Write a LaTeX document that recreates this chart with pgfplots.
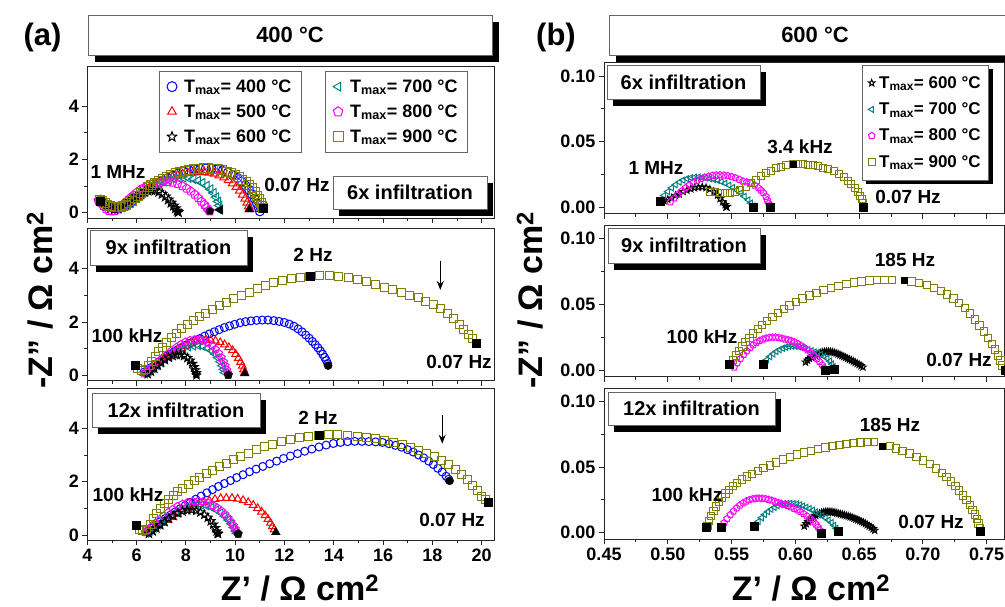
\documentclass[border=0pt]{standalone}
\usepackage{fontspec}
\setmainfont{Liberation Sans}
\usepackage{pgfplots}
\pgfplotsset{compat=1.18}
\usetikzlibrary{arrows.meta,shadows}

\definecolor{cblue}{RGB}{0,0,255}
\definecolor{cred}{RGB}{255,0,0}
\definecolor{cteal}{RGB}{0,128,128}
\definecolor{cmag}{RGB}{255,0,255}
\definecolor{colive}{RGB}{128,128,0}

\newcommand{\fs}[1]{\fontsize{#1}{#1}\selectfont\bfseries}
\newcommand{\tmax}[1]{T\textsubscript{max}= #1 °C}

% open and filled five-pointed star
\pgfdeclareplotmark{ostar}{%
  \pgfpathmoveto{\pgfqpoint{0pt}{\pgfplotmarksize}}%
  \pgfpathlineto{\pgfqpoint{-0.247\pgfplotmarksize}{0.340\pgfplotmarksize}}%
  \pgfpathlineto{\pgfqpoint{-0.951\pgfplotmarksize}{0.309\pgfplotmarksize}}%
  \pgfpathlineto{\pgfqpoint{-0.399\pgfplotmarksize}{-0.130\pgfplotmarksize}}%
  \pgfpathlineto{\pgfqpoint{-0.588\pgfplotmarksize}{-0.809\pgfplotmarksize}}%
  \pgfpathlineto{\pgfqpoint{0pt}{-0.42\pgfplotmarksize}}%
  \pgfpathlineto{\pgfqpoint{0.588\pgfplotmarksize}{-0.809\pgfplotmarksize}}%
  \pgfpathlineto{\pgfqpoint{0.399\pgfplotmarksize}{-0.130\pgfplotmarksize}}%
  \pgfpathlineto{\pgfqpoint{0.951\pgfplotmarksize}{0.309\pgfplotmarksize}}%
  \pgfpathlineto{\pgfqpoint{0.247\pgfplotmarksize}{0.340\pgfplotmarksize}}%
  \pgfpathclose\pgfusepathqstroke}
\pgfdeclareplotmark{ostar*}{%
  \pgfpathmoveto{\pgfqpoint{0pt}{\pgfplotmarksize}}%
  \pgfpathlineto{\pgfqpoint{-0.247\pgfplotmarksize}{0.340\pgfplotmarksize}}%
  \pgfpathlineto{\pgfqpoint{-0.951\pgfplotmarksize}{0.309\pgfplotmarksize}}%
  \pgfpathlineto{\pgfqpoint{-0.399\pgfplotmarksize}{-0.130\pgfplotmarksize}}%
  \pgfpathlineto{\pgfqpoint{-0.588\pgfplotmarksize}{-0.809\pgfplotmarksize}}%
  \pgfpathlineto{\pgfqpoint{0pt}{-0.42\pgfplotmarksize}}%
  \pgfpathlineto{\pgfqpoint{0.588\pgfplotmarksize}{-0.809\pgfplotmarksize}}%
  \pgfpathlineto{\pgfqpoint{0.399\pgfplotmarksize}{-0.130\pgfplotmarksize}}%
  \pgfpathlineto{\pgfqpoint{0.951\pgfplotmarksize}{0.309\pgfplotmarksize}}%
  \pgfpathlineto{\pgfqpoint{0.247\pgfplotmarksize}{0.340\pgfplotmarksize}}%
  \pgfpathclose\pgfusepathqfillstroke}

\tikzset{
  ibox/.style={draw=black!60, fill=white, line width=0.6pt, font=\fs{20}, inner sep=0pt,
    drop shadow={shadow xshift=6pt, shadow yshift=-7pt, fill=black, opacity=1}},
  hbox/.style={draw=black!60, fill=white, line width=0.6pt, font=\fs{22}, inner sep=0pt,
    drop shadow={shadow xshift=7pt, shadow yshift=-7pt, fill=black, opacity=1}},
  lbl/.style={font=\fs{19}},
}

\pgfplotsset{
  common/.style={scale only axis, clip=false, tick align=outside,
    xtick pos=bottom, ytick pos=left,
    axis line style={line width=0.8pt, black!85},
    every tick/.style={black!85, line width=0.8pt},
    major tick length=5pt, minor tick length=3pt,
    tick label style={font=\fs{18}},
    /pgf/number format/assume math mode=true},
  leftax/.style={common, width=406.7pt, height=152pt,
    xmin=4, xmax=20.5, ymin=-0.2, ymax=5.5,
    xtick={4,6,8,10,12,14,16,18,20}, ytick={0,2,4},
    minor x tick num=1, minor y tick num=1},
  rightax/.style={common, width=400.5pt, height=151.1pt,
    xmin=0.45, xmax=0.764, ymin=-0.005, ymax=0.11,
    xtick={0.45,0.50,0.55,0.60,0.65,0.70,0.75}, ytick={0,0.05,0.10},
    minor x tick num=1, minor y tick num=1,
    xticklabel style={/pgf/number format/.cd, fixed, fixed zerofill, precision=2},
    yticklabel style={/pgf/number format/.cd, fixed, fixed zerofill, precision=2}},
  s400/.style={only marks, mark=o, color=cblue, line width=1pt, mark size=4pt, mark options={draw=cblue}},
  s500/.style={only marks, mark=triangle, color=cred, line width=1pt, mark size=4.5pt, mark options={draw=cred}},
  s600/.style={only marks, mark=ostar, color=black, line width=1pt, mark size=4.5pt},
  s700/.style={only marks, mark=triangle, color=cteal, line width=1pt, mark size=4.5pt, mark options={rotate=90, draw=cteal}},
  s800/.style={only marks, mark=pentagon, color=cmag, line width=1pt, mark size=4pt, mark options={draw=cmag}},
  s900/.style={only marks, mark=square, color=colive, line width=1pt, mark size=4pt, mark options={draw=colive, fill=none}},
  fm/.style={only marks, black, mark size=4pt, forget plot},
  legl/.style={legend cell align=left,
    legend style={anchor=north west, draw=black!60, line width=0.6pt,
      font=\fs{18}, row sep=7pt, inner xsep=8pt, inner ysep=6pt,
      /tikz/every odd column/.append style={column sep=5pt}},
    legend image post style={mark size=5pt}},
}

\begin{document}
\begin{tikzpicture}
\useasboundingbox (0pt,0pt) rectangle (1005pt,607pt);

% ---------- (a) 400 C, 6x ----------
\begin{axis}[leftax, at={(87.3pt,389pt)}, anchor=south west, xticklabels={},
  legl, legend style={at={(0.1756,0.965)}}]
\addplot[s400, mark size=4.5pt] coordinates {(4.52,0.46)(4.65,0.38)(4.8,0.28)(4.95,0.21)(5.1,0.18)(5.25,0.18)(5.4,0.21)(5.55,0.27)(5.7,0.35)(5.85,0.45)(6.0,0.55)(6.16,0.66)(6.33,0.77)(6.5,0.88)(6.68,0.99)(6.87,1.1)(7.06,1.2)(7.26,1.3)(7.47,1.39)(7.68,1.47)(7.9,1.54)(8.12,1.59)(8.35,1.63)(8.58,1.65)(8.81,1.66)(9.04,1.65)(9.27,1.62)(9.49,1.57)(9.7,1.5)(9.9,1.41)(10.09,1.3)(10.26,1.17)(10.42,1.02)(10.56,0.86)(10.68,0.69)(10.79,0.52)(10.88,0.35)(10.95,0.19)(11.0,0.05)};
\addlegendentry{\tmax{400}}
\addplot[s500, mark size=5pt] coordinates {(4.52,0.45)(4.65,0.38)(4.8,0.28)(4.95,0.22)(5.1,0.2)(5.25,0.21)(5.4,0.24)(5.55,0.3)(5.7,0.38)(5.85,0.48)(6.0,0.58)(6.16,0.69)(6.33,0.8)(6.5,0.9)(6.68,1.0)(6.86,1.09)(7.05,1.18)(7.25,1.26)(7.45,1.33)(7.66,1.39)(7.87,1.44)(8.08,1.48)(8.3,1.51)(8.52,1.52)(8.74,1.52)(8.95,1.5)(9.16,1.46)(9.36,1.4)(9.55,1.32)(9.73,1.22)(9.9,1.1)(10.05,0.97)(10.19,0.83)(10.31,0.68)(10.41,0.53)(10.49,0.38)(10.55,0.24)(10.58,0.13)};
\addlegendentry{\tmax{500}}
\addplot[s700, mark size=5pt, forget plot] coordinates {(4.52,0.45)(4.65,0.38)(4.8,0.28)(4.95,0.2)(5.1,0.16)(5.25,0.16)(5.4,0.2)(5.55,0.27)(5.7,0.36)(5.86,0.46)(6.02,0.57)(6.19,0.68)(6.36,0.79)(6.54,0.9)(6.72,1.0)(6.91,1.09)(7.1,1.17)(7.3,1.23)(7.5,1.28)(7.7,1.3)(7.9,1.31)(8.1,1.3)(8.3,1.26)(8.49,1.2)(8.67,1.12)(8.84,1.01)(8.99,0.88)(9.12,0.74)(9.23,0.58)(9.31,0.42)(9.36,0.27)(9.39,0.12)};
\addplot[s800, mark size=4.5pt, forget plot] coordinates {(4.45,0.45)(4.55,0.36)(4.65,0.25)(4.76,0.14)(4.88,0.07)(5.0,0.05)(5.12,0.07)(5.24,0.13)(5.36,0.22)(5.48,0.32)(5.6,0.43)(5.73,0.54)(5.87,0.65)(6.01,0.76)(6.16,0.86)(6.32,0.95)(6.49,1.03)(6.67,1.09)(6.86,1.13)(7.06,1.15)(7.26,1.15)(7.46,1.13)(7.66,1.08)(7.85,1.0)(8.03,0.91)(8.2,0.8)(8.36,0.68)(8.5,0.55)(8.63,0.42)(8.75,0.3)(8.85,0.18)(8.93,0.09)(8.97,0.05)};
\addplot[s600, mark size=5pt] coordinates {(4.52,0.45)(4.65,0.36)(4.8,0.25)(4.95,0.17)(5.1,0.14)(5.25,0.16)(5.4,0.22)(5.55,0.31)(5.7,0.42)(5.85,0.53)(6.0,0.63)(6.15,0.72)(6.3,0.79)(6.45,0.83)(6.6,0.85)(6.75,0.83)(6.9,0.78)(7.04,0.7)(7.17,0.6)(7.29,0.49)(7.4,0.37)(7.5,0.26)(7.58,0.16)(7.65,0.07)(7.69,0.02)};
\addlegendentry{\tmax{600}}
\addplot[s900, mark size=4.5pt, forget plot] coordinates {(4.52,0.46)(4.6,0.42)(4.7,0.35)(4.8,0.29)(4.92,0.24)(5.05,0.22)(5.18,0.21)(5.32,0.22)(5.45,0.25)(5.58,0.3)(5.7,0.37)(5.82,0.45)(5.94,0.54)(6.06,0.64)(6.19,0.75)(6.32,0.85)(6.46,0.95)(6.6,1.04)(6.75,1.12)(6.9,1.2)(7.06,1.28)(7.22,1.35)(7.4,1.41)(7.58,1.47)(7.76,1.52)(7.95,1.56)(8.14,1.6)(8.33,1.63)(8.52,1.65)(8.72,1.66)(8.91,1.66)(9.1,1.65)(9.29,1.62)(9.47,1.59)(9.65,1.54)(9.82,1.48)(9.98,1.41)(10.14,1.33)(10.29,1.24)(10.43,1.14)(10.56,1.03)(10.68,0.91)(10.79,0.78)(10.89,0.64)(10.97,0.5)(11.04,0.37)(11.1,0.25)(11.14,0.16)};
\addplot[fm, mark=square*] coordinates {(4.51,0.44)(11.14,0.16)};
\addplot[fm, mark=ostar*, mark size=5pt] coordinates {(7.69,0.02)};
\addplot[fm, mark=pentagon*] coordinates {(8.97,0.06)};
\addplot[fm, mark=triangle*, mark size=5pt, mark options={rotate=90}] coordinates {(9.38,0.1)};
\addplot[fm, mark=triangle*, mark size=5pt] coordinates {(10.57,0.12)};
\end{axis}
\begin{axis}[leftax, at={(87.3pt,389pt)}, anchor=south west, hide axis,
  legl, legend style={at={(0.584,0.965)}}]
\addlegendimage{s700}\addlegendentry{\tmax{700}}
\addlegendimage{s800}\addlegendentry{\tmax{800}}
\addlegendimage{s900}\addlegendentry{\tmax{900}}
\end{axis}

% ---------- (a) 400 C, 9x ----------
\begin{axis}[leftax, at={(87.3pt,226.4pt)}, anchor=south west, xticklabels={}]
\addplot[s400] coordinates {(6.3,0.12)(6.45,0.2)(6.6,0.3)(6.75,0.4)(6.9,0.5)(7.05,0.6)(7.2,0.7)(7.36,0.79)(7.52,0.88)(7.68,0.97)(7.85,1.05)(8.02,1.14)(8.2,1.22)(8.38,1.3)(8.57,1.38)(8.76,1.47)(8.95,1.55)(9.15,1.63)(9.35,1.71)(9.56,1.79)(9.77,1.85)(9.98,1.91)(10.2,1.97)(10.42,2.01)(10.64,2.04)(10.87,2.06)(11.1,2.07)(11.33,2.07)(11.56,2.05)(11.78,2.02)(11.99,1.98)(12.19,1.92)(12.38,1.84)(12.55,1.74)(12.71,1.63)(12.86,1.51)(13.0,1.39)(13.13,1.27)(13.25,1.15)(13.36,1.03)(13.46,0.91)(13.55,0.79)(13.63,0.67)(13.7,0.55)(13.75,0.44)};
\addplot[s500] coordinates {(6.3,0.08)(6.45,0.15)(6.6,0.25)(6.76,0.36)(6.92,0.47)(7.09,0.58)(7.26,0.69)(7.44,0.8)(7.62,0.9)(7.81,1.0)(8.0,1.1)(8.2,1.19)(8.4,1.26)(8.6,1.31)(8.8,1.33)(9.0,1.32)(9.2,1.29)(9.39,1.23)(9.57,1.15)(9.74,1.05)(9.89,0.93)(10.02,0.79)(10.13,0.64)(10.22,0.49)(10.29,0.35)(10.34,0.21)(10.38,0.1)};
\addplot[s700] coordinates {(6.35,0.05)(6.5,0.14)(6.66,0.25)(6.82,0.36)(6.99,0.47)(7.16,0.58)(7.34,0.69)(7.52,0.8)(7.71,0.9)(7.9,0.99)(8.1,1.06)(8.3,1.1)(8.5,1.11)(8.69,1.08)(8.87,1.02)(9.03,0.92)(9.17,0.8)(9.29,0.66)(9.39,0.51)(9.47,0.36)(9.53,0.22)(9.57,0.1)};
\addplot[s800] coordinates {(6.3,0.06)(6.45,0.16)(6.6,0.28)(6.76,0.41)(6.92,0.54)(7.09,0.67)(7.26,0.8)(7.44,0.93)(7.62,1.05)(7.8,1.16)(7.98,1.25)(8.17,1.31)(8.36,1.34)(8.55,1.33)(8.73,1.29)(8.9,1.21)(9.06,1.1)(9.2,0.97)(9.33,0.82)(9.44,0.66)(9.53,0.5)(9.6,0.35)(9.66,0.2)(9.7,0.08)};
\addplot[s600] coordinates {(6.45,0.05)(6.58,0.14)(6.72,0.25)(6.86,0.37)(7.0,0.48)(7.15,0.58)(7.3,0.67)(7.46,0.73)(7.62,0.77)(7.78,0.77)(7.93,0.73)(8.06,0.65)(8.17,0.55)(8.26,0.43)(8.33,0.31)(8.38,0.19)(8.42,0.08)};
\addplot[s900] coordinates {(6.05,0.25)(6.2,0.17)(6.35,0.2)(6.5,0.35)(6.62,0.52)(6.75,0.7)(6.9,0.88)(7.05,1.05)(7.22,1.22)(7.4,1.4)(7.6,1.57)(7.82,1.74)(8.06,1.9)(8.3,2.06)(8.55,2.2)(8.8,2.33)(9.07,2.46)(9.35,2.6)(9.64,2.73)(9.94,2.86)(10.25,2.99)(10.57,3.12)(10.9,3.24)(11.23,3.35)(11.57,3.46)(11.92,3.55)(12.28,3.62)(12.65,3.68)(13.03,3.72)(13.42,3.74)(13.81,3.73)(14.2,3.7)(14.58,3.65)(14.95,3.58)(15.32,3.5)(15.69,3.4)(16.05,3.3)(16.4,3.2)(16.75,3.1)(17.09,3.0)(17.42,2.9)(17.74,2.78)(18.05,2.65)(18.34,2.5)(18.61,2.32)(18.86,2.12)(19.08,1.92)(19.28,1.72)(19.46,1.52)(19.62,1.36)};
\addplot[fm, mark=square*] coordinates {(5.93,0.36)(13.03,3.72)(19.78,1.22)};
\addplot[fm, mark=*] coordinates {(13.77,0.36)};
\addplot[fm, mark=triangle*, mark size=5pt] coordinates {(10.39,0.07)};
\addplot[fm, mark=pentagon*, mark size=4.5pt] coordinates {(9.72,0.01)};
\addplot[fm, mark=ostar*, mark size=5pt] coordinates {(8.43,0.0)};
\draw[-{Stealth[length=9pt,width=7pt]}, line width=1.2pt] (axis cs:18.32,4.3) -- (axis cs:18.32,3.2);
\end{axis}

% ---------- (a) 400 C, 12x ----------
\begin{axis}[leftax, at={(87.3pt,66.7pt)}, anchor=south west]
\addplot[s400] coordinates {(6.45,0.15)(6.62,0.26)(6.8,0.38)(6.98,0.5)(7.17,0.62)(7.36,0.74)(7.56,0.86)(7.76,0.98)(7.97,1.1)(8.18,1.22)(8.4,1.34)(8.62,1.46)(8.85,1.58)(9.08,1.7)(9.32,1.82)(9.56,1.93)(9.81,2.04)(10.06,2.15)(10.32,2.26)(10.58,2.37)(10.85,2.47)(11.12,2.57)(11.4,2.67)(11.68,2.77)(11.96,2.87)(12.24,2.96)(12.53,3.05)(12.82,3.14)(13.11,3.22)(13.4,3.3)(13.69,3.37)(13.98,3.43)(14.27,3.47)(14.56,3.5)(14.85,3.51)(15.14,3.51)(15.42,3.5)(15.7,3.49)(15.97,3.47)(16.24,3.42)(16.5,3.36)(16.75,3.29)(16.99,3.2)(17.22,3.11)(17.44,3.0)(17.65,2.89)(17.85,2.77)(18.04,2.64)(18.22,2.5)(18.4,2.36)(18.56,2.2)(18.66,2.09)};
\addplot[s500] coordinates {(6.4,0.08)(6.56,0.15)(6.73,0.24)(6.9,0.34)(7.08,0.45)(7.27,0.56)(7.46,0.67)(7.66,0.78)(7.86,0.88)(8.07,0.98)(8.28,1.07)(8.5,1.15)(8.72,1.23)(8.95,1.29)(9.18,1.34)(9.41,1.37)(9.64,1.38)(9.87,1.38)(10.1,1.35)(10.32,1.3)(10.53,1.22)(10.73,1.12)(10.91,1.0)(11.07,0.87)(11.21,0.73)(11.33,0.59)(11.43,0.45)(11.51,0.32)(11.58,0.2)};
\addplot[s700] coordinates {(6.4,0.06)(6.55,0.15)(6.71,0.26)(6.87,0.38)(7.04,0.5)(7.22,0.62)(7.41,0.74)(7.6,0.85)(7.8,0.95)(8.0,1.03)(8.21,1.09)(8.42,1.12)(8.63,1.12)(8.84,1.09)(9.04,1.03)(9.23,0.94)(9.41,0.83)(9.57,0.7)(9.71,0.56)(9.83,0.42)(9.93,0.28)(10.01,0.15)(10.06,0.06)};
\addplot[s800] coordinates {(6.35,0.1)(6.48,0.2)(6.62,0.32)(6.77,0.45)(6.93,0.58)(7.1,0.71)(7.28,0.84)(7.47,0.96)(7.66,1.07)(7.86,1.16)(8.07,1.22)(8.28,1.26)(8.49,1.27)(8.7,1.25)(8.9,1.2)(9.09,1.12)(9.27,1.02)(9.44,0.9)(9.59,0.77)(9.72,0.63)(9.83,0.49)(9.93,0.35)(10.01,0.22)(10.07,0.11)};
\addplot[s600] coordinates {(6.5,0.05)(6.65,0.14)(6.8,0.25)(6.96,0.37)(7.13,0.49)(7.3,0.61)(7.48,0.72)(7.67,0.82)(7.86,0.89)(8.05,0.93)(8.24,0.94)(8.42,0.91)(8.59,0.85)(8.75,0.76)(8.89,0.65)(9.01,0.52)(9.11,0.39)(9.19,0.26)(9.25,0.14)(9.29,0.06)};
\addplot[s900] coordinates {(6.1,0.22)(6.25,0.15)(6.4,0.22)(6.55,0.4)(6.68,0.6)(6.82,0.8)(6.97,0.99)(7.13,1.17)(7.3,1.33)(7.48,1.48)(7.67,1.62)(7.88,1.76)(8.1,1.9)(8.33,2.04)(8.57,2.17)(8.82,2.3)(9.08,2.43)(9.35,2.56)(9.63,2.69)(9.92,2.82)(10.22,2.95)(10.53,3.07)(10.85,3.19)(11.18,3.3)(11.52,3.4)(11.87,3.5)(12.23,3.58)(12.6,3.65)(12.98,3.7)(13.39,3.74)(13.78,3.76)(14.17,3.76)(14.56,3.74)(14.95,3.71)(15.33,3.67)(15.7,3.61)(16.06,3.55)(16.42,3.47)(16.77,3.38)(17.11,3.28)(17.44,3.17)(17.76,3.05)(18.07,2.93)(18.37,2.79)(18.66,2.64)(18.93,2.47)(19.19,2.28)(19.43,2.07)(19.64,1.86)(19.83,1.65)(20.0,1.46)(20.15,1.32)};
\addplot[fm, mark=square*] coordinates {(5.97,0.38)(13.39,3.74)(20.28,1.23)};
\addplot[fm, mark=*] coordinates {(18.70,2.03)};
\addplot[fm, mark=triangle*, mark size=5pt] coordinates {(11.65,0.1)};
\addplot[fm, mark=pentagon*, mark size=4.5pt] coordinates {(10.12,0.04)};
\addplot[fm, mark=ostar*, mark size=5pt] coordinates {(9.31,0.04)};
\draw[-{Stealth[length=9pt,width=7pt]}, line width=1.2pt] (axis cs:18.4,4.5) -- (axis cs:18.4,3.42);
\end{axis}

% ---------- (b) 600 C, 6x ----------
\begin{axis}[rightax, at={(604pt,393.1pt)}, anchor=south west, xticklabels={},
  legend cell align=left,
  legend style={at={(0.644,0.985)}, anchor=north west, draw=black!60, line width=0.6pt,
    font=\fs{17}, row sep=9pt, inner xsep=6pt, inner ysep=9pt,
    /tikz/every odd column/.append style={column sep=2pt},
    drop shadow={shadow xshift=4pt, shadow yshift=-4pt, fill=black, opacity=1}},
  legend image post style={mark size=3.5pt}]
\addplot[s600, mark size=3.5pt] coordinates {(0.497,0.005)(0.5,0.006)(0.503,0.007)(0.506,0.009)(0.509,0.01)(0.512,0.012)(0.515,0.013)(0.518,0.014)(0.521,0.0148)(0.524,0.0153)(0.527,0.0155)(0.53,0.015)(0.533,0.0138)(0.536,0.0118)(0.539,0.0092)(0.541,0.0066)(0.543,0.0042)(0.545,0.002)(0.546,0.0005)};
\addlegendentry{\tmax{600}}
\addplot[s700, mark size=3.5pt] coordinates {(0.494,0.0056)(0.497,0.009)(0.5,0.012)(0.503,0.0148)(0.506,0.0172)(0.509,0.0192)(0.512,0.0207)(0.515,0.0218)(0.518,0.0225)(0.521,0.0229)(0.524,0.023)(0.527,0.0228)(0.53,0.0223)(0.533,0.0218)(0.536,0.0212)(0.539,0.0205)(0.542,0.0195)(0.545,0.0183)(0.548,0.0168)(0.551,0.0151)(0.554,0.0131)(0.557,0.0108)(0.56,0.0083)(0.563,0.0057)(0.565,0.0032)(0.567,0.001)};
\addlegendentry{\tmax{700}}
\addplot[s800, mark size=3.5pt] coordinates {(0.502,0.004)(0.505,0.007)(0.508,0.0098)(0.511,0.0124)(0.514,0.0148)(0.517,0.0169)(0.52,0.0188)(0.523,0.0204)(0.526,0.0217)(0.529,0.0228)(0.532,0.0236)(0.535,0.0242)(0.538,0.0245)(0.541,0.0246)(0.544,0.0244)(0.547,0.024)(0.55,0.0233)(0.553,0.0224)(0.556,0.0212)(0.559,0.0198)(0.562,0.0192)(0.565,0.0185)(0.568,0.0168)(0.571,0.0148)(0.573,0.013)(0.575,0.011)(0.577,0.0082)(0.578,0.0055)(0.579,0.003)(0.58,0.001)};
\addlegendentry{\tmax{800}}
\addplot[s900, mark size=3.5pt] coordinates {(0.5331,0.0119)(0.537,0.0113)(0.541,0.011)(0.545,0.011)(0.549,0.0112)(0.553,0.0118)(0.557,0.0132)(0.561,0.0155)(0.565,0.0183)(0.569,0.021)(0.573,0.0236)(0.577,0.026)(0.581,0.028)(0.585,0.0297)(0.589,0.031)(0.593,0.032)(0.5984,0.0327)(0.602,0.0328)(0.606,0.0327)(0.61,0.0325)(0.614,0.032)(0.618,0.0313)(0.622,0.0303)(0.626,0.029)(0.63,0.0274)(0.634,0.0254)(0.638,0.0229)(0.641,0.0204)(0.644,0.0176)(0.647,0.0145)(0.649,0.0118)(0.651,0.0088)(0.652,0.006)(0.653,0.0032)};
\addlegendentry{\tmax{900}}
\addplot[fm, mark=square*] coordinates {(0.4939,0.0048)(0.567,0.0)(0.580,0.0)(0.6533,0.0)};
\addplot[fm, mark=square*, mark size=3pt] coordinates {(0.5984,0.0327)};
\addplot[fm, mark=ostar*, mark size=5pt] coordinates {(0.546,0.0005)};
\end{axis}

% ---------- (b) 600 C, 9x ----------
\begin{axis}[rightax, at={(604pt,230.4pt)}, anchor=south west, xticklabels={}]
\addplot[s600, mark size=3.5pt] coordinates {(0.608,0.006)(0.6095,0.0075)(0.611,0.0088)(0.6125,0.0098)(0.614,0.0106)(0.6155,0.0114)(0.617,0.0121)(0.6185,0.0127)(0.62,0.0132)(0.6215,0.0136)(0.623,0.0139)(0.6245,0.014)(0.626,0.014)(0.6275,0.0139)(0.629,0.0137)(0.6305,0.0133)(0.632,0.0128)(0.6335,0.0122)(0.635,0.0116)(0.6365,0.0109)(0.638,0.0102)(0.6395,0.0095)(0.641,0.0088)(0.6425,0.0081)(0.644,0.0074)(0.6455,0.0066)(0.647,0.0058)(0.6485,0.005)(0.65,0.0042)(0.6515,0.0033)(0.653,0.0022)};
\addplot[s700, mark size=3.5pt] coordinates {(0.575,0.005)(0.5775,0.0078)(0.58,0.0102)(0.5825,0.0123)(0.585,0.0141)(0.5875,0.0155)(0.59,0.0166)(0.5925,0.0174)(0.595,0.0179)(0.5975,0.0181)(0.6,0.018)(0.6025,0.0177)(0.605,0.0172)(0.6075,0.0164)(0.61,0.0154)(0.6125,0.0146)(0.615,0.0138)(0.6175,0.0129)(0.62,0.0118)(0.6225,0.0104)(0.625,0.0088)(0.627,0.0068)(0.6285,0.0046)(0.6298,0.0024)(0.6306,0.0005)};
\addplot[s800, mark size=3.5pt] coordinates {(0.552,0.002)(0.5545,0.0055)(0.557,0.0088)(0.5595,0.0118)(0.562,0.0145)(0.5645,0.017)(0.567,0.0191)(0.5695,0.0209)(0.572,0.0223)(0.5745,0.0234)(0.577,0.0242)(0.5795,0.0247)(0.582,0.0249)(0.5845,0.0249)(0.587,0.0246)(0.5895,0.0241)(0.592,0.0234)(0.5945,0.0229)(0.597,0.0222)(0.5995,0.0212)(0.602,0.02)(0.6045,0.0186)(0.607,0.017)(0.6095,0.0152)(0.612,0.0132)(0.6145,0.011)(0.617,0.0086)(0.619,0.0062)(0.621,0.0038)(0.6225,0.0015)};
\addplot[s900, mark size=3.7pt] coordinates {(0.549,0.004)(0.551,0.0076)(0.5535,0.011)(0.556,0.0145)(0.5585,0.018)(0.561,0.0213)(0.564,0.0245)(0.567,0.0278)(0.5705,0.031)(0.574,0.0342)(0.578,0.0375)(0.582,0.0405)(0.5865,0.0435)(0.591,0.0465)(0.5955,0.0492)(0.6005,0.0518)(0.6055,0.0543)(0.611,0.0566)(0.6165,0.0587)(0.622,0.0607)(0.628,0.0625)(0.634,0.0641)(0.64,0.0655)(0.646,0.0666)(0.652,0.0675)(0.658,0.0681)(0.664,0.0685)(0.67,0.0686)(0.676,0.0685)(0.691,0.0674)(0.697,0.0662)(0.703,0.0646)(0.7085,0.0626)(0.714,0.0602)(0.719,0.0574)(0.724,0.0543)(0.7285,0.0508)(0.733,0.047)(0.737,0.043)(0.741,0.0386)(0.7445,0.034)(0.748,0.0292)(0.751,0.0245)(0.754,0.02)(0.7565,0.0155)(0.759,0.0112)(0.761,0.0072)(0.7625,0.0035)};
\addplot[fm, mark=square*] coordinates {(0.5482,0.0045)(0.5749,0.0045)(0.6233,0.0)(0.6306,0.0005)(0.7644,0.0)};
\addplot[fm, mark=square*, mark size=3pt] coordinates {(0.6852,0.0682)};
\end{axis}

% ---------- (b) 600 C, 12x ----------
\begin{axis}[rightax, at={(604pt,67.7pt)}, anchor=south west]
\addplot[s600, mark size=3.5pt] coordinates {(0.607,0.005)(0.6085,0.0068)(0.61,0.0084)(0.6115,0.0098)(0.613,0.0111)(0.6145,0.0122)(0.616,0.0132)(0.6175,0.014)(0.619,0.0147)(0.6205,0.0152)(0.622,0.0156)(0.6235,0.0159)(0.625,0.016)(0.6265,0.016)(0.628,0.0159)(0.6295,0.0157)(0.631,0.0154)(0.6325,0.015)(0.634,0.0146)(0.6355,0.0142)(0.637,0.0138)(0.6385,0.0134)(0.64,0.013)(0.6415,0.0126)(0.643,0.0121)(0.6445,0.0116)(0.646,0.011)(0.6475,0.0104)(0.649,0.0098)(0.6505,0.0091)(0.652,0.0084)(0.6535,0.0077)(0.655,0.0069)(0.6565,0.006)(0.658,0.0051)(0.6595,0.0041)(0.661,0.003)(0.6622,0.0018)};
\addplot[s700, mark size=3.5pt] coordinates {(0.5685,0.0055)(0.571,0.0086)(0.5735,0.0114)(0.576,0.0139)(0.5785,0.016)(0.581,0.0178)(0.5835,0.0193)(0.586,0.0205)(0.5885,0.0214)(0.591,0.022)(0.5935,0.0223)(0.596,0.0224)(0.5985,0.0222)(0.601,0.0218)(0.6035,0.0212)(0.606,0.0204)(0.6085,0.0194)(0.611,0.0183)(0.6135,0.0171)(0.616,0.0158)(0.6185,0.0144)(0.621,0.0129)(0.6235,0.0113)(0.626,0.0096)(0.6283,0.0077)(0.6303,0.0056)(0.632,0.0034)(0.6332,0.0014)};
\addplot[s800, mark size=3.5pt] coordinates {(0.542,0.004)(0.5442,0.0075)(0.5465,0.0107)(0.549,0.0137)(0.5515,0.0164)(0.554,0.0188)(0.5565,0.0209)(0.559,0.0226)(0.5615,0.024)(0.564,0.025)(0.5665,0.0257)(0.569,0.0261)(0.5715,0.0262)(0.574,0.0261)(0.5765,0.0258)(0.579,0.0253)(0.5815,0.0246)(0.584,0.0238)(0.5865,0.0229)(0.589,0.0222)(0.5915,0.0214)(0.594,0.0205)(0.5965,0.0195)(0.599,0.0184)(0.6015,0.0172)(0.604,0.0159)(0.6065,0.0144)(0.609,0.0127)(0.6115,0.0108)(0.614,0.0087)(0.616,0.0065)(0.6178,0.0043)(0.6192,0.002)};
\addplot[s900, mark size=3.7pt] coordinates {(0.531,0.005)(0.5325,0.009)(0.534,0.0128)(0.5358,0.0165)(0.5378,0.02)(0.54,0.0234)(0.5425,0.0267)(0.5452,0.0298)(0.548,0.0327)(0.551,0.0354)(0.5545,0.038)(0.558,0.0404)(0.562,0.0427)(0.566,0.0448)(0.5705,0.0468)(0.575,0.0491)(0.58,0.0513)(0.585,0.0535)(0.5905,0.0556)(0.596,0.0576)(0.6015,0.0594)(0.607,0.061)(0.6125,0.0624)(0.618,0.0637)(0.6235,0.0649)(0.629,0.0659)(0.6345,0.0668)(0.64,0.0676)(0.6455,0.0682)(0.651,0.0687)(0.6565,0.069)(0.6615,0.0691)(0.674,0.066)(0.679,0.064)(0.684,0.0622)(0.6895,0.0602)(0.695,0.0578)(0.7003,0.0551)(0.7055,0.0521)(0.7105,0.0488)(0.7148,0.0455)(0.7186,0.0424)(0.7222,0.0391)(0.7255,0.0356)(0.7285,0.032)(0.7315,0.0284)(0.7343,0.0248)(0.7368,0.0211)(0.739,0.0174)(0.7408,0.0139)(0.7423,0.0104)(0.7436,0.007)(0.7446,0.0038)};
\addplot[fm, mark=square*] coordinates {(0.530,0.0045)(0.5415,0.004)(0.5678,0.0051)(0.6201,0.0)(0.6337,0.0008)(0.7453,0.0008)};
\addplot[fm, mark=square*, mark size=3pt] coordinates {(0.6685,0.066)};
\end{axis}

% ---------- headers, boxes, labels ----------
\node[font=\fs{31}] at (42.5pt,569.5pt) {(a)};
\node[font=\fs{31}] at (556pt,569.5pt) {(b)};
\node[hbox, minimum width=404pt, minimum height=40pt] at (290pt,572pt) {400 °C};
\node[hbox, minimum width=412pt, minimum height=40pt] at (815pt,572pt) {600 °C};

\node[ibox, minimum width=154pt, minimum height=33pt] at (410pt,414.5pt) {6x infiltration};
\node[ibox, minimum width=157pt, minimum height=35pt] at (168.5pt,359.5pt) {9x infiltration};
\node[ibox, minimum width=168pt, minimum height=34pt] at (176pt,197pt) {12x infiltration};
\node[ibox, minimum width=153pt, minimum height=34pt] at (683.5pt,525pt) {6x infiltration};
\node[ibox, minimum width=152pt, minimum height=35pt] at (684pt,361.5pt) {9x infiltration};
\node[ibox, minimum width=167pt, minimum height=33pt] at (691.5pt,198.5pt) {12x infiltration};

\node[lbl] at (118pt,435pt) {1 MHz};
\node[lbl] at (297pt,422pt) {0.07 Hz};
\node[lbl] at (313pt,352pt) {2 Hz};
\node[lbl] at (127pt,271pt) {100 kHz};
\node[lbl] at (459pt,245pt) {0.07 Hz};
\node[lbl] at (318pt,189pt) {2 Hz};
\node[lbl] at (128pt,112pt) {100 kHz};
\node[lbl] at (452pt,87pt) {0.07 Hz};
\node[lbl] at (656pt,439pt) {1 MHz};
\node[lbl] at (800pt,460pt) {3.4 kHz};
\node[lbl] at (908pt,410pt) {0.07 Hz};
\node[lbl] at (905pt,347pt) {185 Hz};
\node[lbl] at (702pt,270pt) {100 kHz};
\node[lbl] at (959pt,247pt) {0.07 Hz};
\node[lbl] at (890pt,182pt) {185 Hz};
\node[lbl] at (687pt,112pt) {100 kHz};
\node[lbl] at (931pt,85pt) {0.07 Hz};

\node[font=\fs{34}, rotate=90] at (40pt,307pt) {-Z'' / Ω cm\textsuperscript{2}};
\node[font=\fs{34}, rotate=90] at (530pt,307pt) {-Z'' / Ω cm\textsuperscript{2}};
\node[font=\fs{34}] at (300pt,19pt) {Z' / Ω cm\textsuperscript{2}};
\node[font=\fs{34}] at (811pt,19pt) {Z' / Ω cm\textsuperscript{2}};
\end{tikzpicture}
\end{document}
